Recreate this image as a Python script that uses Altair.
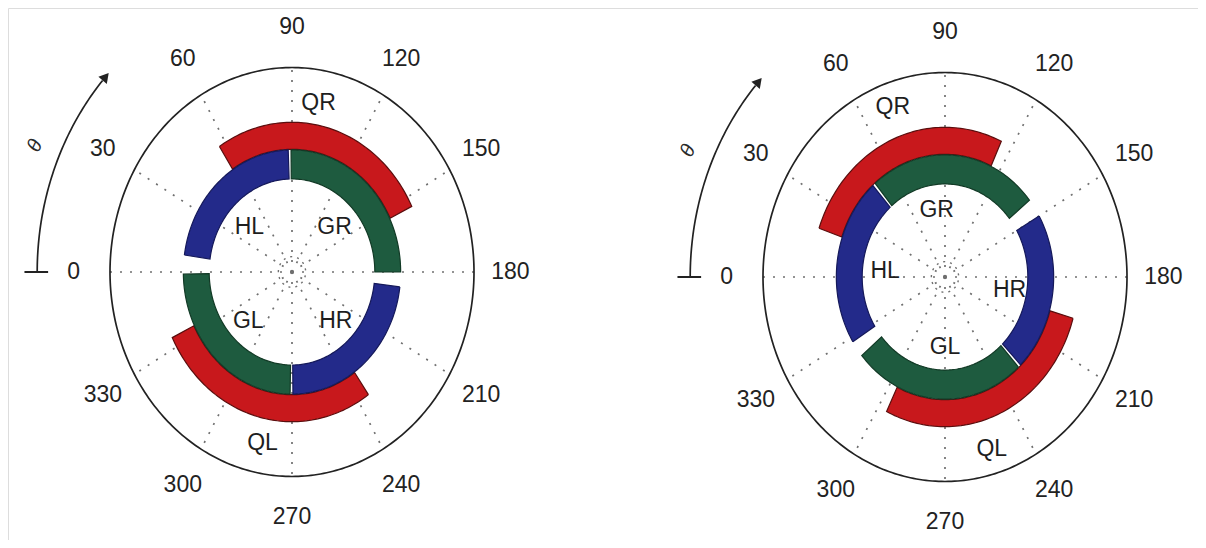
import numpy as np
import pandas as pd
import altair as alt

# ---------------- data ----------------
TICK_ANGLES = [0, 30, 60, 90, 120, 150, 180, 210, 240, 270, 300, 330]
TICK_LABELS = ["0", "30", "60", "90", "120", "150", "180", "210", "240", "270", "300", "330"]

ARC_NAMES = ["HL", "GR", "HR", "GL", "QR", "QL"]
ARC_GROUP = ["H", "G", "H", "G", "Q", "Q"]

# angular extents (degrees, 0 = left, 90 = top, 180 = right)
LEFT_START = [8, 89.5, 187, 271, 57, 235]
LEFT_END = [88, 180, 269.5, 359, 154, 334]
RIGHT_START = [-32, 50, 150, 227.5, 19, 196]
RIGHT_END = [48.5, 141, 226, 320, 115, 296]

# label placement (angle, radius) for each arc name
LEFT_LABEL_THETA = [43, 137, 225, 315, 100, 281]
LEFT_LABEL_R = [0.32, 0.32, 0.34, 0.34, 0.84, 0.85]
RIGHT_LABEL_THETA = [5, 82, 190, 270, 71, 253]
RIGHT_LABEL_R = [0.33, 0.33, 0.36, 0.34, 0.88, 0.88]

# ring radii (fraction of the outer circle)
RING = {"H": (0.455, 0.597), "G": (0.455, 0.597), "Q": (0.600, 0.732)}
FILL = {"H": "#232a8a", "G": "#1e5b3f", "Q": "#c8181c"}
EDGE = {"H": "#15195a", "G": "#123a26", "Q": "#5a0e0e"}

# ---------------- layout ----------------
W, H = 1190, 532
PX_X, PX_Y = 182.0, 204.5          # pixels per unit radius (plot is stretched vertically)
C0 = (284.0, 264.0)                 # left centre in chart pixels
CENTERS_PX = [(284.0, 264.0), (937.0, 269.0)]


def ux(px):
    return (px - C0[0]) / PX_X


def uy(py):
    return (C0[1] - py) / PX_Y


CENTERS = [(ux(a), uy(b)) for a, b in CENTERS_PX]
XDOM = [ux(0), ux(W)]
YDOM = [uy(H), uy(0)]


def pol(cx, cy, r, th):
    t = np.radians(th)
    return cx - r * np.cos(t), cy + r * np.sin(t)


# arcs as polygons
rows = []
panels = [(LEFT_START, LEFT_END), (RIGHT_START, RIGHT_END)]
for p, (starts, ends) in enumerate(panels):
    cx, cy = CENTERS[p]
    for name, g, a0, a1 in zip(ARC_NAMES, ARC_GROUP, starts, ends):
        r0, r1 = RING[g]
        t = np.linspace(a0, a1, 80)
        pts = [pol(cx, cy, r1, th) for th in t] + [pol(cx, cy, r0, th) for th in t[::-1]]
        pts.append(pts[0])
        for i, (x, y) in enumerate(pts):
            rows.append(dict(key=f"{p}-{name}", grp=g, i=i, x=x, y=y))
arcs = pd.DataFrame(rows)

# radial grid lines
spokes = []
for p in range(2):
    cx, cy = CENTERS[p]
    for a in TICK_ANGLES:
        x2, y2 = pol(cx, cy, 1.0, a)
        spokes.append(dict(x=cx, y=cy, x2=x2, y2=y2))
spokes = pd.DataFrame(spokes)

# outer ellipse, small grid circle, theta arrow
circ = []
for p in range(2):
    cx, cy = CENTERS[p]
    for i, a in enumerate(np.linspace(0, 360, 361)):
        x, y = pol(cx, cy, 1.0, a)
        circ.append(dict(key=f"o{p}", kind="outer", i=i, x=x, y=y))
        x, y = pol(cx, cy, 0.075, a)
        circ.append(dict(key=f"g{p}", kind="grid", i=i, x=x, y=y))
    for i, a in enumerate(np.linspace(0, 42, 60)):
        x, y = pol(cx, cy, 1.40, a)
        circ.append(dict(key=f"a{p}", kind="arrow", i=i, x=x, y=y))
circ = pd.DataFrame(circ)

ticks = []
for p in range(2):
    cx, cy = CENTERS[p]
    x, y = pol(cx, cy, 1.34, 0)
    x2, y2 = pol(cx, cy, 1.47, 0)
    ticks.append(dict(x=x, y=y, x2=x2, y2=y2))
ticks = pd.DataFrame(ticks)

heads = []
for p in range(2):
    cx, cy = CENTERS[p]
    x, y = pol(cx, cy, 1.40, 43)
    heads.append(dict(x=x, y=y))
heads = pd.DataFrame(heads)

thetas = []
for p in range(2):
    cx, cy = CENTERS[p]
    x, y = pol(cx, cy, 1.54, 23.6)
    thetas.append(dict(x=x, y=y, t="θ"))
thetas = pd.DataFrame(thetas)

tick_lab = []
for p in range(2):
    cx, cy = CENTERS[p]
    for a, lab in zip(TICK_ANGLES, TICK_LABELS):
        x, y = pol(cx, cy, 1.20, a)
        tick_lab.append(dict(x=x, y=y, t=lab))
tick_lab = pd.DataFrame(tick_lab)

arc_lab = []
for p, (ths, rs) in enumerate([(LEFT_LABEL_THETA, LEFT_LABEL_R), (RIGHT_LABEL_THETA, RIGHT_LABEL_R)]):
    cx, cy = CENTERS[p]
    for name, a, r in zip(ARC_NAMES, ths, rs):
        x, y = pol(cx, cy, r, a)
        arc_lab.append(dict(x=x, y=y, t=name))
arc_lab = pd.DataFrame(arc_lab)

# ---------------- chart ----------------
xs = alt.Scale(domain=XDOM, nice=False, zero=False)
ys = alt.Scale(domain=YDOM, nice=False, zero=False)
X = alt.X("x:Q", scale=xs, axis=None)
Y = alt.Y("y:Q", scale=ys, axis=None)

spoke_layer = alt.Chart(spokes).mark_rule(
    color="#707070", strokeDash=[2, 8], strokeWidth=1.7
).encode(X, Y, x2="x2:Q", y2="y2:Q")

grid_layer = alt.Chart(circ).transform_filter("datum.kind == 'grid'").mark_line(
    color="#707070", strokeDash=[2, 5], strokeWidth=1.4
).encode(X, Y, detail="key:N", order="i:Q")

outer_layer = alt.Chart(circ).transform_filter("datum.kind == 'outer'").mark_line(
    color="#222222", strokeWidth=1.7
).encode(X, Y, detail="key:N", order="i:Q")

arc_layers = []
for g in ["Q", "H", "G"]:
    arc_layers.append(
        alt.Chart(arcs).transform_filter(f"datum.grp == '{g}'").mark_line(
            fill=FILL[g], stroke=EDGE[g], strokeWidth=1.2, strokeJoin="miter"
        ).encode(X, Y, detail="key:N", order="i:Q")
    )

arrow_layer = alt.Chart(circ).transform_filter("datum.kind == 'arrow'").mark_line(
    color="#222222", strokeWidth=1.7
).encode(X, Y, detail="key:N", order="i:Q")

tick_layer = alt.Chart(ticks).mark_rule(color="#222222", strokeWidth=2).encode(
    X, Y, x2="x2:Q", y2="y2:Q"
)

head_layer = alt.Chart(heads).mark_point(
    shape="triangle-up", filled=True, color="#222222", size=120, angle=40, opacity=1
).encode(X, Y)

theta_layer = alt.Chart(thetas).mark_text(
    font="Liberation Sans", fontSize=20, fontStyle="italic", color="#2a2a2a", angle=295
).encode(X, Y, text="t:N")

tick_text = alt.Chart(tick_lab).mark_text(
    font="Liberation Sans", fontSize=23, color="#222222"
).encode(X, Y, text="t:N")

arc_text = alt.Chart(arc_lab).mark_text(
    font="Liberation Sans", fontSize=23, color="#1e1e1e"
).encode(X, Y, text="t:N")

chart = alt.layer(
    spoke_layer, grid_layer, outer_layer, *arc_layers,
    arrow_layer, tick_layer, head_layer, theta_layer, tick_text, arc_text
).properties(
    width=W, height=H, padding=0, autosize=alt.AutoSizeParams(type="none")
).configure_view(stroke="transparent", strokeWidth=0).configure(background="white")

chart.save("out.html", embed_options={"renderer": "svg", "actions": False})
